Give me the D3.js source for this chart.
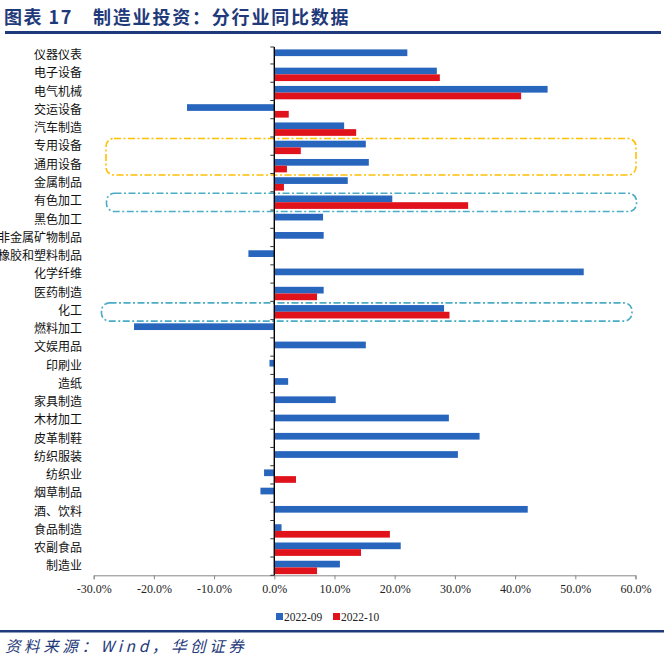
<!DOCTYPE html>
<html><head><meta charset="utf-8">
<script src="https://cdn.jsdelivr.net/npm/d3@7/dist/d3.min.js"></script>
<style>body{margin:0;background:#fff}svg{display:block}</style>
</head><body>
<svg id="c" width="664" height="663"></svg>
<script>
const categories = ["仪器仪表","电子设备","电气机械","交运设备","汽车制造","专用设备","通用设备","金属制品","有色加工","黑色加工","非金属矿物制品","橡胶和塑料制品","化学纤维","医药制造","化工","燃料加工","文娱用品","印刷业","造纸","家具制造","木材加工","皮革制鞋","纺织服装","纺织业","烟草制品","酒、饮料","食品制造","农副食品","制造业"];
const series2209 = [22.1,27.0,45.4,-14.5,11.6,15.2,15.7,12.2,19.6,8.1,8.2,-4.3,51.4,8.2,28.2,-23.3,15.2,-0.8,2.3,10.2,29.0,34.1,30.5,-1.7,-2.3,42.1,1.2,21.0,10.9];
const series2210 = [null,27.5,41.0,2.4,13.6,4.4,2.1,1.6,32.2,null,null,null,null,7.1,29.1,null,null,null,null,null,null,null,null,3.6,null,null,19.2,14.4,7.1];
const seriesNames = ["2022-09","2022-10"];
const xTicks = [-30,-20,-10,0,10,20,30,40,50,60];
const titleLabel = "图表 17";
const titleText = "制造业投资：分行业同比数据";
const sourceText = "资料来源：Wind，华创证券";
const highlightGroups = [
  {from:"专用设备", to:"通用设备", color:"#FFC000", x0:106, x1:636},
  {from:"有色加工", to:"有色加工", color:"#4BACC6", x0:106.5, x1:636.5},
  {from:"化工", to:"化工", color:"#4BACC6", x0:101.5, x1:632}
];

const colors = ["#2865BD","#E0121B"];
const navy = "#1F3A7A";
const svg = d3.select("#c");
svg.append("rect").attr("width",664).attr("height",663).attr("fill","#fff");

// title
const tf = "'Noto Sans CJK SC','Noto Sans',sans-serif";
svg.append("text").attr("x",4).attr("y",24).attr("font-family",tf)
  .attr("font-weight","bold").attr("font-size",18).attr("letter-spacing",1.5)
  .attr("fill",navy).text(titleLabel);
svg.append("text").attr("x",93).attr("y",24).attr("font-family",tf)
  .attr("font-weight","bold").attr("font-size",18).attr("letter-spacing",1.8)
  .attr("fill",navy).text(titleText);
svg.append("rect").attr("x",5).attr("y",31).attr("width",656).attr("height",3).attr("fill",navy);

const x = d3.scaleLinear().domain([-30,60]).range([93.7,635.5]);
const y = d3.scaleBand().domain(categories).range([45.7,575.3]);
const bw = y.bandwidth();
const barH = 6.7, barOff = 3.7;

// highlight boxes
highlightGroups.forEach(g=>{
  const top = y(g.from)+1.5, bot = y(g.to)+bw+1.5;
  svg.append("rect").attr("x",g.x0).attr("y",top).attr("width",g.x1-g.x0).attr("height",bot-top)
    .attr("rx",8).attr("ry",8).attr("fill","none").attr("stroke",g.color)
    .attr("stroke-width",1.6).attr("stroke-dasharray","7,2.5,2,2.5");
});

// bars
[series2209, series2210].forEach((s,si)=>{
  svg.append("g").selectAll("rect").data(categories.map((c,i)=>({c,v:s[i]})).filter(d=>d.v!==null))
    .join("rect")
    .attr("x",d=>x(Math.min(0,d.v)))
    .attr("width",d=>Math.abs(x(d.v)-x(0)))
    .attr("y",d=>y(d.c)+barOff+si*barH)
    .attr("height",barH)
    .attr("fill",colors[si]);
});

// x axis
const xa = svg.append("g").attr("transform","translate(0,575.3)")
  .call(d3.axisBottom(x).tickValues(xTicks).tickSize(4).tickFormat(d=>d.toFixed(1)+"%"));
xa.select(".domain").attr("stroke","#888");
xa.selectAll(".tick line").attr("stroke","#888");
xa.selectAll("text").attr("font-family","'Liberation Serif','Times New Roman',serif")
  .attr("font-size",12).attr("fill","#222").attr("dy","0.9em");

// y axis at zero
const ya = svg.append("g").attr("transform",`translate(${x(0)},0)`);
const bounds = categories.map(c=>y(c)).slice(1).concat([y.range()[1]]);
ya.append("line").attr("x1",0).attr("x2",0).attr("y1",47).attr("y2",575.3).attr("stroke","#000").attr("stroke-width",1.4);
ya.selectAll(".tk").data([47].concat(bounds)).join("line").attr("class","tk")
  .attr("x1",-4).attr("x2",0).attr("y1",d=>d).attr("y2",d=>d).attr("stroke","#333");

// category labels
svg.append("g").selectAll("text").data(categories).join("text")
  .attr("x",82).attr("y",d=>y(d)+bw/2).attr("dy","0.36em").attr("text-anchor","end")
  .attr("font-family","'Noto Sans CJK SC',sans-serif").attr("font-size",12).attr("fill","#111")
  .text(d=>d);

// legend
const lg = svg.append("g").attr("transform","translate(276,617)");
seriesNames.forEach((n,i)=>{
  const ox = i*57;
  lg.append("rect").attr("x",ox).attr("y",-4).attr("width",7).attr("height",7).attr("fill",colors[i]);
  lg.append("text").attr("x",ox+8).attr("y",0).attr("dy","0.36em")
    .attr("font-family","'Liberation Serif','Times New Roman',serif").attr("font-size",11.5).attr("fill","#222").text(n);
});

// bottom rule and source
svg.append("rect").attr("x",0).attr("y",630).attr("width",664).attr("height",2.5).attr("fill",navy);
svg.append("text").attr("x",5).attr("y",652)
  .attr("font-family","'Noto Sans CJK SC','Liberation Serif',serif").attr("font-style","italic")
  .attr("font-size",15.5).attr("letter-spacing",3.6).attr("fill",navy).text(sourceText);
</script>
</body></html>
